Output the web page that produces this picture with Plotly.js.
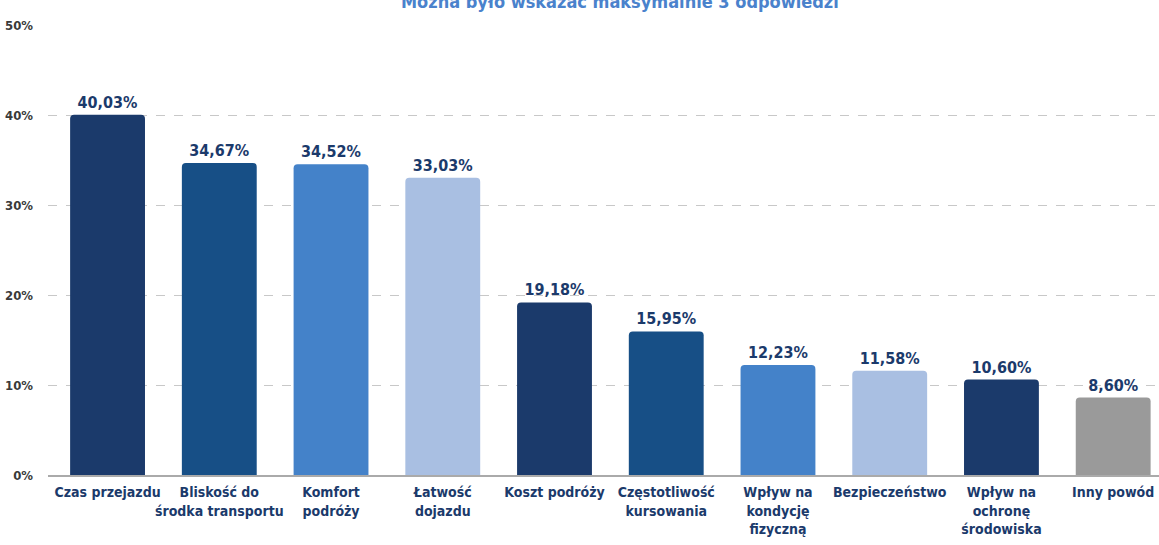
<!DOCTYPE html>
<html><head><meta charset="utf-8">
<script src="https://cdn.plot.ly/plotly-3.0.1.min.js"></script>
<style>html,body{margin:0;padding:0;background:#fff;}#chart{width:1159px;height:545px;}</style>
</head><body><div id="chart"></div>
<script>
const categories = ["Czas przejazdu","Bliskość do<br>środka transportu","Komfort<br>podróży","Łatwość<br>dojazdu","Koszt podróży","Częstotliwość<br>kursowania","Wpływ na<br>kondycję<br>fizyczną","Bezpieczeństwo","Wpływ na<br>ochronę<br>środowiska","Inny powód"];
const values = [40.03,34.67,34.52,33.03,19.18,15.95,12.23,11.58,10.60,8.60];
const colors = ["#1b3a6b","#174f86","#4482c9","#a9bfe2","#1b3a6b","#174f86","#4482c9","#a9bfe2","#1b3a6b","#9a9a9a"];
const yTicks = [0,10,20,30,40,50];
const yTickLabels = ["0%","10%","20%","30%","40%","50%"];
const titleText = "Można było wskazać maksymalnie 3 odpowiedzi";

const FONT = '"DejaVu Sans Condensed","Liberation Sans Narrow",sans-serif';
const idx = categories.map((c,i)=>i);
const labels = values.map(v => v.toFixed(2).replace('.', ',') + '%');

const trace = {
  type:'bar', x: idx, y: values,
  marker:{color: colors, line:{width:0}},
  width: 0.67,
  text: labels, textposition:'outside', cliponaxis:false,
  textfont:{family:FONT, size:16, color:'#1b3a6b', weight:'bold'},
  hoverinfo:'none'
};
const layout = {
  width:1159, height:545,
  margin:{l:48, r:0, t:25, b:70},
  paper_bgcolor:'#fff', plot_bgcolor:'#fff',
  showlegend:false,
  barcornerradius:4,
  xaxis:{
    range:[-0.533, 9.41],
    tickmode:'array', tickvals: idx, ticktext: categories, tickangle:0,
    tickfont:{family:FONT, size:14, color:'#1b3a6b', weight:'bold'},
    showgrid:false, zeroline:false, showline:true, linecolor:'#aaaaaa', linewidth:1.5,
    ticks:'', ticklabelstandoff:4, fixedrange:true
  },
  yaxis:{
    range:[0,50], tickmode:'array', tickvals:yTicks, ticktext:yTickLabels,
    tickfont:{family:FONT, size:13, color:'#3a3a3a', weight:'bold'},
    showgrid:true, gridcolor:'#c8c8c8', griddash:'dash', gridwidth:1,
    zeroline:false, showline:false, ticks:'', ticklabelstandoff:14, fixedrange:true
  },
  annotations:[{
    text: titleText, xref:'paper', yref:'paper', x:0.515, y:1, yshift:24,
    xanchor:'center', yanchor:'middle', showarrow:false,
    font:{family:FONT, size:18, color:'#4a82cc', weight:'bold'}
  }]
};
Plotly.newPlot('chart',[trace],layout,{displayModeBar:false, staticPlot:true});
</script></body></html>
